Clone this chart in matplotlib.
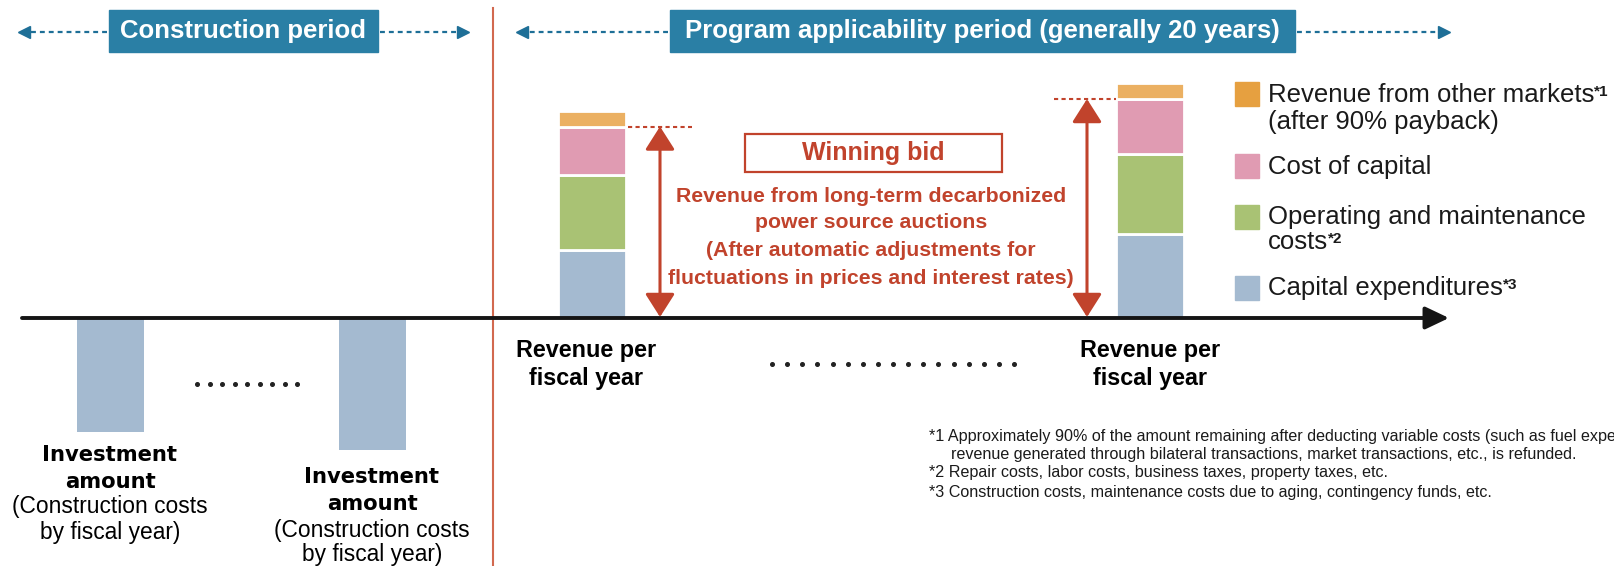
import matplotlib
matplotlib.use("Agg")
import matplotlib.pyplot as plt
from matplotlib.patches import Rectangle
import numpy as np

# ---------------- data ----------------
stack_labels = ["Capital expenditures", "Operating and maintenance costs",
                "Cost of capital", "Revenue from other markets"]
revenue_years = ["Revenue per\nfiscal year", "Revenue per\nfiscal year"]
capex = [68.5, 84.5]
om_costs = [75.0, 80.0]
cost_of_capital = [48.0, 54.5]
other_markets = [16.0, 16.0]
investment_years = ["Investment\namount", "Investment\namount"]
investment = [114.0, 132.0]
headers = ["Construction period", "Program applicability period (generally 20 years)"]
footnotes = [
    "*1 Approximately 90% of the amount remaining after deducting variable costs (such as fuel expenses) from the",
    "revenue generated through bilateral transactions, market transactions, etc., is refunded.",
    "*2 Repair costs, labor costs, business taxes, property taxes, etc.",
    "*3 Construction costs, maintenance costs due to aging, contingency funds, etc.",
]

# ---------------- style ----------------
FONT = "Liberation Sans"
TEAL = "#2A7FA5"
TEAL_D = "#1E6F97"
RED = "#C1432C"
VLINE = "#D2694F"
C_BLUE = "#A4BAD0"
C_GREEN = "#A9C274"
C_PINK = "#E09BB2"
C_ORANGE = "#EBB062"
C_ORANGE_LEG = "#E6A040"

plt.rcParams["font.family"] = [FONT, "DejaVu Sans"]

W, H = 1614, 566
BASE = 318  # pixel row of the horizontal axis
fig = plt.figure(figsize=(W / 100, H / 100), dpi=100)
ax = fig.add_axes([0, 0, 1, 1])
ax.set_xlim(0, W)
ax.set_ylim(BASE - H, BASE)
ax.axis("off")


def Y(py):
    """pixel row -> data y"""
    return BASE - py


# ---------------- header boxes and dashed arrows ----------------
def dashed_arrow(x_from, x_tip, y):
    ax.plot([x_from, x_tip], [y, y], ls=(0, (2.2, 1.8)), lw=1.6, color=TEAL_D,
            solid_capstyle="butt")
    ax.plot([x_tip], [y], marker="<" if x_tip < x_from else ">", ms=8,
            color=TEAL_D, mec=TEAL_D)


hy0, hy1 = 10, 52
for (x0, x1), label, (la, lb), (ra, rb) in [
    ((109, 378), headers[0], (107, 24), (380, 463)),
    ((670, 1295), headers[1], (668, 522), (1297, 1444)),
]:
    ax.add_patch(Rectangle((x0, Y(hy1)), x1 - x0, hy1 - hy0, color=TEAL, zorder=3))
    ax.text((x0 + x1) / 2, Y(31), label, color="white", fontsize=18.5,
            fontweight="bold", ha="center", va="center", zorder=4)
    dashed_arrow(la, lb, Y(32))
    dashed_arrow(ra, rb, Y(32))

# red divider
ax.plot([493, 493], [Y(8), Y(566)], color=VLINE, lw=1.5)

# ---------------- bars ----------------
rev_pos = [592, 1150]
inv_pos = [110, 372]
bw = 68
edge = dict(edgecolor="white", linewidth=2.0)
bottom = np.zeros(2)
for vals, col in zip([capex, om_costs, cost_of_capital, other_markets],
                     [C_BLUE, C_GREEN, C_PINK, C_ORANGE]):
    ax.bar(rev_pos, vals, width=bw, bottom=bottom, color=col, zorder=2, **edge)
    bottom = bottom + np.array(vals)

ax.bar(inv_pos, [-v for v in investment], width=67, color=C_BLUE, zorder=2)

# main horizontal axis arrow
ax.annotate("", xy=(1449, 0), xytext=(22, 0),
            arrowprops=dict(arrowstyle="-|>,head_length=0.4,head_width=0.19",
                            mutation_scale=36, lw=2.8, color="#151515",
                            shrinkA=0, shrinkB=0), zorder=5)

# ---------------- winning-bid arrows ----------------
bid_top = [c + o + k for c, o, k in zip(capex, om_costs, cost_of_capital)]
arrow_x = [660, 1087]
dash_span = [(628, 692), (1054, 1116)]
for ax_x, top, (d0, d1) in zip(arrow_x, bid_top, dash_span):
    ax.annotate("", xy=(ax_x, top), xytext=(ax_x, 1),
                arrowprops=dict(arrowstyle="<|-|>,head_length=0.55,head_width=0.35",
                                mutation_scale=26, lw=2.2, color=RED,
                                shrinkA=0, shrinkB=0), zorder=4)
    ax.plot([d0, d1], [top, top], ls=(0, (2.0, 1.6)), lw=1.5, color=RED)

# winning bid box and text
ax.add_patch(Rectangle((745, Y(172)), 257, 38, facecolor="white",
                       edgecolor=RED, lw=1.6, zorder=3))
ax.text(873, Y(153), "Winning bid", color=RED, fontsize=18, fontweight="bold",
        ha="center", va="center", zorder=4)
red_lines = ["Revenue from long-term decarbonized", "power source auctions",
             "(After automatic adjustments for",
             "fluctuations in prices and interest rates)"]
for txt, py in zip(red_lines, [196, 222, 251, 279]):
    ax.text(871, Y(py), txt, color=RED, fontsize=15.3, fontweight="bold",
            ha="center", va="center")

# ---------------- legend ----------------
leg_items = [
    (C_ORANGE_LEG, [stack_labels[3], "(after 90% payback)"], "*1", 93.5, [95, 122]),
    (C_PINK, [stack_labels[2]], None, 166, [167]),
    (C_GREEN, ["Operating and maintenance", "costs"], "*2", 216.5, [217, 242]),
    (C_BLUE, [stack_labels[0]], "*3", 288, [288]),
]
for col, lines, sup, sq_y, ys in leg_items:
    ax.add_patch(Rectangle((1235, Y(sq_y + 12)), 24, 24, color=col))
    arts = []
    for ln, py in zip(lines, ys):
        arts.append(ax.text(1268, Y(py), ln, fontsize=18.5, ha="left",
                            va="center", color="#1a1a1a"))
    if sup:
        target = arts[0] if sup == "*1" else arts[-1]
        ax.annotate(sup, xy=(1, 0.93), xycoords=target, ha="left", va="top",
                    fontsize=11, fontweight="bold", color="#1a1a1a")

# ---------------- labels under axis ----------------
rev_label_x = [586, 1150]
for x, lab in zip(rev_label_x, revenue_years):
    l1, l2 = lab.split("\n")
    ax.text(x, Y(350), l1, fontsize=16.8, fontweight="bold", ha="center", va="center")
    ax.text(x, Y(378), l2, fontsize=16.8, fontweight="bold", ha="center", va="center")

inv_label_rows = [[455, 482, 507, 532], [477, 504, 530, 555]]
for x, lab, rows in zip(inv_pos, investment_years, inv_label_rows):
    l1, l2 = lab.split("\n")
    ax.text(x, Y(rows[0]), l1, fontsize=15.2, fontweight="bold",
            family="DejaVu Sans", ha="center", va="center")
    ax.text(x, Y(rows[1]), l2, fontsize=15.2, fontweight="bold",
            family="DejaVu Sans", ha="center", va="center")
    ax.text(x, Y(rows[2]), "(Construction costs", fontsize=16.4, ha="center",
            va="center")
    ax.text(x, Y(rows[3]), "by fiscal year)", fontsize=16.4, ha="center",
            va="center")

# dotted ellipses
ax.plot(np.linspace(197, 297, 9), [Y(384)] * 9, ls="none", marker="o", ms=2.6,
        color="#222")
ax.plot(np.linspace(772, 1014, 17), [Y(364)] * 17, ls="none", marker="o", ms=2.6,
        color="#222")

# ---------------- footnotes ----------------
for txt, x, py in zip(footnotes, [929, 951, 929, 929], [436, 454, 473, 492]):
    ax.text(x, Y(py), txt, fontsize=11.6, ha="left", va="center", color="#1a1a1a",
            clip_on=True)

fig.savefig("out.png", dpi=100)
